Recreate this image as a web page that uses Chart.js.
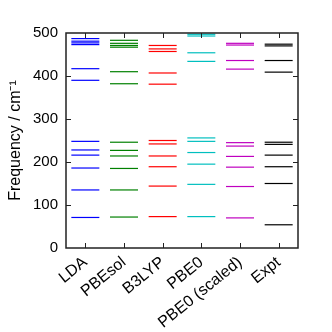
<!DOCTYPE html>
<html>
<head>
<meta charset="utf-8">
<script src="https://cdn.jsdelivr.net/npm/chart.js@4"></script>
<style>
  html, body { margin: 0; padding: 0; background: #fff; }
  #wrap { width: 332px; height: 332px; }
</style>
</head>
<body>
<div id="wrap"><canvas id="c" width="332" height="332"></canvas></div>
<script>
const categories = ['LDA', 'PBEsol', 'B3LYP', 'PBE0', 'PBE0 (scaled)', 'Expt'];
const colors = ['#0000ff', '#008000', '#ff0000', '#00bfbf', '#bf00bf', '#000000'];
const yTicks = [0, 100, 200, 300, 400, 500];

const ldaFreq = [71, 135, 186, 216, 228, 248, 390, 417, 473, 477, 481, 487];
const pbesolFreq = [72, 135, 185, 214, 227, 246, 382, 410, 467, 471, 476, 483];
const b3lypFreq = [73, 144, 189, 214, 242, 250, 381, 407, 457, 463, 471];
const pbe0Freq = [73, 148, 195, 222, 248, 256, 434, 454, 493, 497];
const pbe0ScaledFreq = [70, 143, 188, 213, 237, 245, 416, 436, 472, 476];
const exptFreq = [54, 150, 189, 216, 241, 246, 409, 436, 470, 474];

const series = [ldaFreq, pbesolFreq, b3lypFreq, pbe0Freq, pbe0ScaledFreq, exptFreq];

const datasets = series.map((vals, i) => ({
  label: categories[i],
  data: vals.map(v => ({ x: i, y: v })),
  pointStyle: 'line',
  pointRadius: 14,
  pointHoverRadius: 14,
  pointBorderWidth: 1.2,
  borderColor: colors[i],
  backgroundColor: colors[i],
  showLine: false
}));

const FONT = 'Liberation Sans, Arial, Helvetica, sans-serif';

const framePlugin = {
  id: 'frame',
  afterDraw(chart) {
    const { ctx, chartArea: a, scales } = chart;
    const tl = 5;
    ctx.save();
    ctx.strokeStyle = '#222';
    ctx.lineWidth = 1;
    ctx.beginPath();
    categories.forEach((_, i) => {
      const x = Math.round(scales.x.getPixelForValue(i)) + 0.5;
      ctx.moveTo(x, a.bottom); ctx.lineTo(x, a.bottom - tl);
      ctx.moveTo(x, a.top); ctx.lineTo(x, a.top + tl);
    });
    yTicks.forEach(v => {
      if (v === 0 || v === 500) return;
      const y = Math.round(scales.y.getPixelForValue(v)) + 0.5;
      ctx.moveTo(a.left, y); ctx.lineTo(a.left + tl, y);
      ctx.moveTo(a.right, y); ctx.lineTo(a.right - tl, y);
    });
    ctx.stroke();
    ctx.lineWidth = 1.5;
    ctx.strokeRect(a.left, a.top, a.right - a.left, a.bottom - a.top);
    ctx.restore();
  }
};

new Chart(document.getElementById('c'), {
  type: 'scatter',
  data: { datasets },
  options: {
    responsive: false,
    animation: false,
    devicePixelRatio: 1,
    layout: { padding: { left: 0, right: 34, top: 33, bottom: 0 } },
    plugins: { legend: { display: false }, tooltip: { enabled: false } },
    scales: {
      x: {
        type: 'linear',
        min: -0.5,
        max: 5.5,
        grid: { display: false, drawTicks: false },
        border: { display: false },
        afterBuildTicks: (scale) => { scale.ticks = categories.map((_, i) => ({ value: i })); },
        afterFit: (scale) => { scale.height = 84; },
        ticks: {
          autoSkip: false,
          minRotation: 39,
          maxRotation: 39,
          padding: 5,
          color: '#000',
          font: { family: FONT, size: 16 },
          callback: (v) => categories[v]
        }
      },
      y: {
        min: 0,
        max: 500,
        grid: { display: false, drawTicks: false },
        border: { display: false },
        afterBuildTicks: (scale) => { scale.ticks = yTicks.map(v => ({ value: v })); },
        afterFit: (scale) => { scale.width = 66; },
        ticks: {
          padding: 8,
          color: '#000',
          font: { family: FONT, size: 15 }
        },
        title: {
          display: true,
          text: 'Frequency / cm⁻¹',
          color: '#000',
          font: { family: FONT, size: 16 },
          padding: { top: 6, bottom: 2 }
        }
      }
    }
  },
  plugins: [framePlugin]
});
</script>
</body>
</html>
